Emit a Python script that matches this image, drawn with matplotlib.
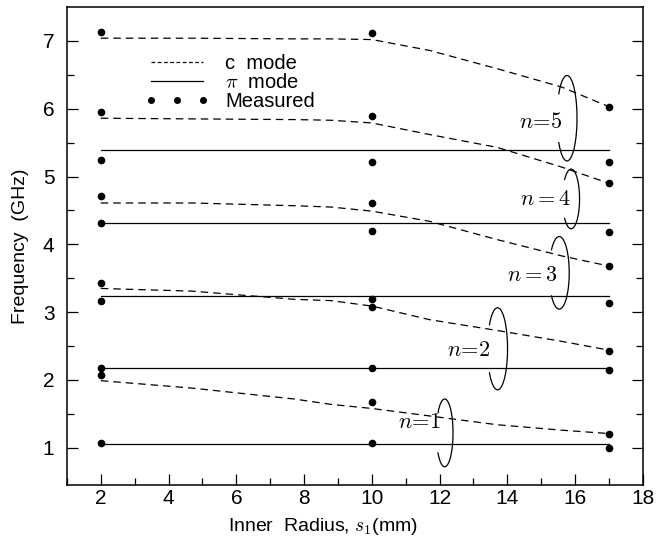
import matplotlib
matplotlib.use("Agg")
import matplotlib.pyplot as plt
from matplotlib.patches import Arc
from matplotlib.lines import Line2D

plt.rcParams['font.family'] = ['Liberation Sans', 'DejaVu Sans']
plt.rcParams['mathtext.fontset'] = 'cm'

# measured points (inner radius in mm, frequency in GHz)
meas_x2 = [1.07, 2.08, 2.17, 3.16, 3.43, 4.32, 4.72, 5.24, 5.95, 7.13]
meas_x10 = [1.07, 1.68, 2.17, 3.08, 3.20, 4.19, 4.61, 5.22, 5.90, 7.11]
meas_x17 = [1.00, 1.21, 2.14, 2.43, 3.13, 3.68, 4.18, 4.90, 5.21, 6.03]

# pi mode (flat) for n = 1..5
pi_x = [2, 17]
pi_freq = [1.05, 2.17, 3.24, 4.32, 5.39]

# c mode curves for n = 1..5
c_x = [2, 4.7, 7.7, 8.8, 10, 11.7, 13.7, 15.6, 17]
c_n1 = [1.99, 1.88, 1.72, 1.64, 1.58, 1.47, 1.34, 1.26, 1.21]
c_n2 = [3.35, 3.31, 3.19, 3.17, 3.09, 2.89, 2.73, 2.57, 2.44]
c_n3 = [4.61, 4.61, 4.57, 4.55, 4.49, 4.34, 4.07, 3.83, 3.68]
c_n4 = [5.86, 5.85, 5.84, 5.83, 5.79, 5.62, 5.43, 5.14, 4.90]
c_n5 = [7.04, 7.04, 7.03, 7.03, 7.02, 6.86, 6.59, 6.32, 6.03]

# "n=" brackets
arc_x = [12.15, 13.71, 15.53, 15.88, 15.76]
arc_y = [1.22, 2.46, 3.58, 4.67, 5.86]
arc_w = [0.49, 0.59, 0.59, 0.50, 0.59]
arc_h = [1.00, 1.21, 1.07, 0.88, 1.26]
lab_x = [11.41, 12.88, 14.74, 15.13, 14.99]
lab_y = [1.37, 2.44, 3.54, 4.66, 5.80]
lab_txt = [r'$n\!=\!1$', r'$n\!=\!2$', r'$n=3$', r'$n=4$', r'$n\!=\!5$']

fig = plt.figure(figsize=(6.69, 5.39), dpi=100)
ax = fig.add_axes([0.100, 0.100, 0.861, 0.887])

for c in [c_n1, c_n2, c_n3, c_n4, c_n5]:
    ax.plot(c_x, c, color='k', lw=0.9, ls=(0, (6, 4)))
for f in pi_freq:
    ax.plot(pi_x, [f, f], color='k', lw=0.9)

ax.plot([2] * len(meas_x2), meas_x2, 'o', color='k', ms=4.5)
ax.plot([10] * len(meas_x10), meas_x10, 'o', color='k', ms=4.5)
ax.plot([17] * len(meas_x17), meas_x17, 'o', color='k', ms=4.5)

for i in range(5):
    ax.add_patch(Arc((arc_x[i], arc_y[i]), arc_w[i], arc_h[i],
                     theta1=-125, theta2=125, color='k', lw=0.9))
    ax.text(lab_x[i], lab_y[i], lab_txt[i], ha='center', va='center', fontsize=16)

ax.set_xlim(1, 18)
ax.set_ylim(0.45, 7.5)
ax.set_xticks(range(2, 19, 2))
ax.set_xticks(range(1, 19), minor=True)
ax.set_yticks(range(1, 8))
ax.set_yticks([1.0 + i * 0.5 for i in range(13)], minor=True)
ax.tick_params(which='both', direction='in', right=True, labelsize=15, width=0.9)
ax.tick_params(which='major', length=8)
ax.tick_params(which='minor', length=5)
ax.tick_params(axis='x', pad=3)
ax.tick_params(axis='y', pad=9)
for s in ax.spines.values():
    s.set_linewidth(1.1)

ax.set_xlabel(r'Inner  Radius, $s_1$(mm)', fontsize=14, labelpad=2)
ax.xaxis.set_label_coords(0.444, -0.065)
ax.set_ylabel('Frequency  (GHz)', fontsize=14, labelpad=10)

handles = [Line2D([], [], color='k', lw=0.9, ls=(0, (3, 2))),
           Line2D([], [], color='k', lw=0.9),
           Line2D([], [], color='k', ls='none', marker='o', ms=4)]
ax.legend(handles, ['c  mode', r'$\pi$  mode', 'Measured'], loc='upper left',
          bbox_to_anchor=(0.118, 0.922), frameon=False, fontsize=14.5,
          numpoints=3, handlelength=3.2, handletextpad=0.8, labelspacing=0.0,
          borderpad=0)

plt.savefig('out.png', dpi=100)
